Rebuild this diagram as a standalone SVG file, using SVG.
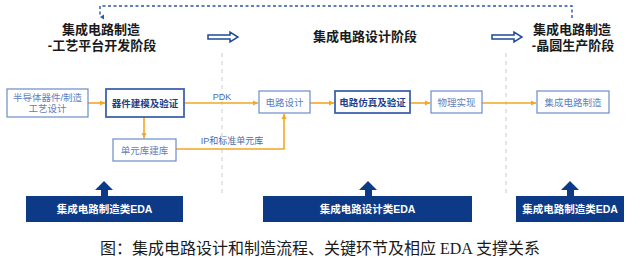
<svg xmlns="http://www.w3.org/2000/svg" width="640" height="260" viewBox="0 0 640 260">
<defs>
<style>
.t{font-family:"Liberation Sans","Noto Sans CJK SC",sans-serif}
.title{font-size:13px;font-weight:bold;fill:#1a1a1a}
.box{fill:#fff;stroke:#6a8cc8;stroke-width:1.2}
.boxb{fill:#fff;stroke:#3f63ab;stroke-width:1.8}
.bt{font-size:9.5px;fill:#5f80be;text-anchor:middle}
.btb{font-size:9.5px;fill:#1f3f8a;font-weight:bold;text-anchor:middle}
.lbl{font-size:9px;fill:#4a6cb0;text-anchor:middle}
.con{fill:none;stroke:#f5a623;stroke-width:1.6}
.eda{fill:#0d3a87}
.edat{font-size:10.5px;font-weight:bold;fill:#fff;text-anchor:middle}
.hollow{fill:#fff;stroke:#1f4a9a;stroke-width:1.5}
.vd{stroke:#cccccc;stroke-width:1;stroke-dasharray:4 4}
</style>
<marker id="oa" markerWidth="6" markerHeight="6" refX="5" refY="3" orient="auto" markerUnits="userSpaceOnUse">
<path d="M0,0.5 L5,3 L0,5.5 z" fill="#f5a623"/>
</marker>
<marker id="ba" markerWidth="6" markerHeight="6" refX="3" refY="5" orient="auto" markerUnits="userSpaceOnUse">
<path d="M0.5,1 L3,5 L5.5,1 z" fill="#2e55a0"/>
</marker>
</defs>
<rect width="640" height="260" fill="#fff"/>

<g id="stage-lines">
<line class="vd" x1="222" y1="53" x2="222" y2="193"/>
<line class="vd" x1="506" y1="53" x2="506" y2="193"/>
</g>

<g id="feedback">
<path d="M572,18 L572,6 L100,6 L100,17" fill="none" stroke="#2e55a0" stroke-width="1.4" stroke-dasharray="3 2.5" marker-end="url(#ba)"/>
</g>

<g id="titles">
<text class="t title" x="101" y="34" text-anchor="middle">集成电路制造</text>
<text class="t title" x="102" y="50" text-anchor="middle">-工艺平台开发阶段</text>
<text class="t title" x="365" y="41" text-anchor="middle">集成电路设计阶段</text>
<text class="t title" x="572" y="34" text-anchor="middle">集成电路制造</text>
<text class="t title" x="573" y="50" text-anchor="middle">-晶圆生产阶段</text>
</g>

<g id="stage-arrows">
<path class="hollow" d="M208,35 L230,35 L230,32 L238,37 L230,42 L230,39 L208,39 z"/>
<path class="hollow" d="M492,35 L514,35 L514,32 L522,37 L514,42 L514,39 L492,39 z"/>
</g>

<g id="connectors">
<line class="con" x1="88" y1="103" x2="105" y2="103" marker-end="url(#oa)"/>
<line class="con" x1="184" y1="103" x2="258" y2="103" marker-end="url(#oa)"/>
<line class="con" x1="310" y1="103" x2="334" y2="103" marker-end="url(#oa)"/>
<line class="con" x1="410" y1="103" x2="430" y2="103" marker-end="url(#oa)"/>
<line class="con" x1="482" y1="103" x2="536" y2="103" marker-end="url(#oa)"/>
<line class="con" x1="144" y1="117" x2="144" y2="138" marker-end="url(#oa)"/>
<path class="con" d="M176,149 L284,149 L284,114" marker-end="url(#oa)"/>
<text class="t lbl" x="222" y="100">PDK</text>
<text class="t lbl" x="232" y="144">IP和标准单元库</text>
</g>

<g id="n-semi">
<rect class="box" x="7" y="89" width="81" height="28"/>
<text class="t bt" x="47.5" y="100.5">半导体器件/制造</text>
<text class="t bt" x="47.5" y="112">工艺设计</text>
</g>
<g id="n-model">
<rect class="boxb" x="106" y="89" width="78" height="28"/>
<text class="t btb" x="145" y="106.5">器件建模及验证</text>
</g>
<g id="n-lib">
<rect class="box" x="113" y="139" width="63" height="22"/>
<text class="t bt" x="144.5" y="153.5">单元库建库</text>
</g>
<g id="n-design">
<rect class="box" x="259" y="91" width="51" height="22"/>
<text class="t bt" x="284.5" y="105.5">电路设计</text>
</g>
<g id="n-sim">
<rect class="boxb" x="335" y="91" width="75" height="22"/>
<text class="t btb" x="372.5" y="105.5">电路仿真及验证</text>
</g>
<g id="n-phys">
<rect class="box" x="431" y="91" width="51" height="22"/>
<text class="t bt" x="456.5" y="105.5">物理实现</text>
</g>
<g id="n-fab">
<rect class="box" x="537" y="91" width="72" height="22"/>
<text class="t bt" x="573" y="105.5">集成电路制造</text>
</g>

<g id="eda-left">
<path class="eda" d="M104,181 L113,190 L108,190 L108,196 L101,196 L101,190 L95,190 z"/>
<rect class="eda" x="26" y="196" width="157" height="26"/>
<text class="t edat" x="104.5" y="213">集成电路制造类EDA</text>
</g>
<g id="eda-mid">
<path class="eda" d="M368,181 L377,190 L372,190 L372,196 L365,196 L365,190 L359,190 z"/>
<rect class="eda" x="263" y="196" width="209" height="26"/>
<text class="t edat" x="367.5" y="213">集成电路设计类EDA</text>
</g>
<g id="eda-right">
<path class="eda" d="M570,181 L579,190 L574,190 L574,196 L567,196 L567,190 L561,190 z"/>
<rect class="eda" x="516" y="196" width="108" height="26"/>
<text class="t edat" x="570" y="213">集成电路制造类EDA</text>
</g>

<text x="320" y="254" text-anchor="middle" font-family="'Liberation Serif','Noto Sans CJK SC',serif" font-size="16" fill="#1a1a1a">图：集成电路设计和制造流程、关键环节及相应 EDA 支撑关系</text>
</svg>
